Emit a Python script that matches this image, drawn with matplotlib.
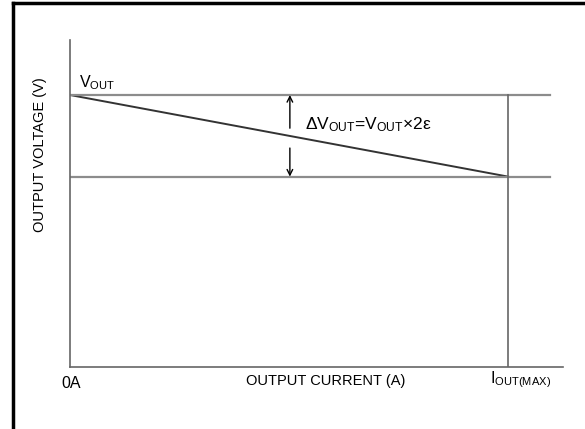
import matplotlib
matplotlib.use('Agg')
import matplotlib.pyplot as plt
from matplotlib.lines import Line2D

plt.rcParams['font.family'] = ['Liberation Sans', 'DejaVu Sans']
plt.rcParams['mathtext.fontset'] = 'custom'
plt.rcParams['mathtext.rm'] = 'Liberation Sans'
plt.rcParams['mathtext.it'] = 'Liberation Sans'

# schematic values (normalised): output current and voltage
current = [0.0, 1.0]          # 0A .. IOUT(MAX)
voltage = [1.0, 0.70]         # VOUT .. VOUT*(1-2e)
arrow_x = 0.502
line_end = 1.096

fig = plt.figure(figsize=(5.85, 4.29), dpi=100)
ax = fig.add_axes([70 / 585, 1 - 367 / 429, 493 / 585, 327 / 429])
ax.set_xlim(0, 493 / 438)
ax.set_ylim(0, 327 / 272)

ax.plot(current, voltage, color='#333333', lw=1.4)
ax.plot([0, line_end], [voltage[0]] * 2, color='#8c8c8c', lw=1.6)
ax.plot([0, line_end], [voltage[1]] * 2, color='#8c8c8c', lw=1.6)
ax.plot([current[1]] * 2, [0, voltage[0]], color='#666666', lw=1.2)

ax.annotate('', xy=(arrow_x, voltage[0]), xytext=(arrow_x, 0.878),
            arrowprops=dict(arrowstyle='->', color='black', lw=1.0,
                            shrinkA=0, shrinkB=0))
ax.annotate('', xy=(arrow_x, voltage[1]), xytext=(arrow_x, 0.805),
            arrowprops=dict(arrowstyle='->', color='black', lw=1.0,
                            shrinkA=0, shrinkB=0))

ax.text(0.537, 0.89, 'ΔV$_{\\mathrm{OUT}}$=V$_{\\mathrm{OUT}}$×2ε',
        fontsize=12.5, va='center', ha='left')
ax.text(0.02, 1.012, 'V$_{\\mathrm{OUT}}$', fontsize=11.5, va='bottom', ha='left')

for side in ['top', 'right']:
    ax.spines[side].set_visible(False)
for side in ['left', 'bottom']:
    ax.spines[side].set_color('#666666')
    ax.spines[side].set_linewidth(1.2)
ax.set_xticks([])
ax.set_yticks([])

fig.text(71 / 585, 1 - 383 / 429, '0A', fontsize=11.5, ha='center', va='center')
fig.text(490 / 585, 1 - 380 / 429, 'I$_{\\mathrm{OUT(MAX)}}$', fontsize=11.5,
         ha='left', va='center')
fig.text(326 / 585, 1 - 381 / 429, 'OUTPUT CURRENT (A)', fontsize=10.5,
         ha='center', va='center')
fig.text(40 / 585, 1 - 155 / 429, 'OUTPUT VOLTAGE (V)', fontsize=10.5,
         ha='center', va='center', rotation=90)

# partial frame around the figure
fig.add_artist(Line2D([13 / 585, 1], [1 - 3 / 429] * 2, color='black', lw=2.5))
fig.add_artist(Line2D([13 / 585] * 2, [0, 1 - 3 / 429], color='black', lw=2.5))

fig.savefig('out.png', dpi=100)
